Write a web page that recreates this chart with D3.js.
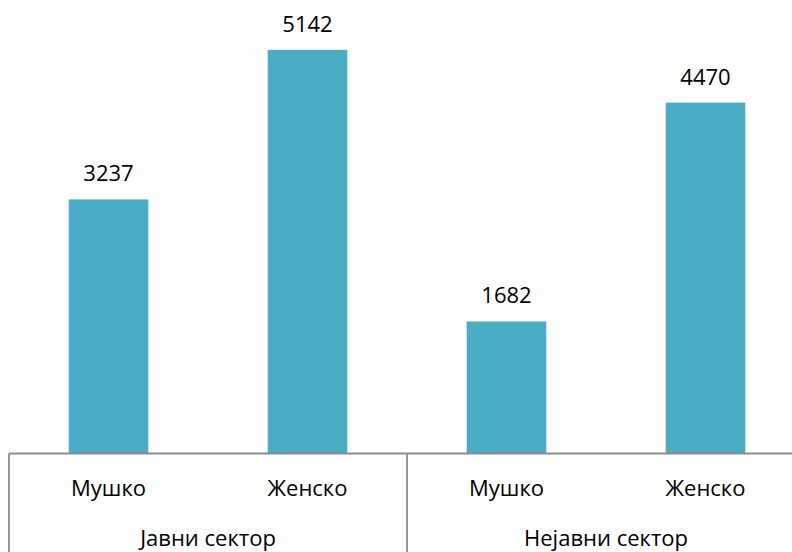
<!DOCTYPE html>
<html><head><meta charset="utf-8">
<script src="https://cdn.jsdelivr.net/npm/d3@7"></script>
<style>body{margin:0;background:#fff}svg{display:block}</style>
</head><body>
<svg id="c" width="792" height="552"></svg>
<script>
const categories = ["Мушко", "Женско", "Мушко", "Женско"];
const groups = ["Јавни сектор", "Нејавни сектор"];
const values = [3237, 5142, 1682, 4470];

const svg = d3.select("#c");
const font = "'Open Sans', sans-serif";
const baseY = 453.5;
const x = d3.scaleBand().domain(d3.range(values.length)).range([9, 805]).paddingInner(0.6).paddingOuter(0.3);
const y = d3.scaleLinear().domain([0, 6000]).range([baseY, baseY - 6000 * 0.0785]);

svg.selectAll("rect.bar").data(values).join("rect")
  .attr("class", "bar")
  .attr("x", (d, i) => x(i)).attr("width", x.bandwidth())
  .attr("y", d => y(d)).attr("height", d => y(0) - y(d))
  .attr("fill", "#4BACC6");

svg.selectAll("text.val").data(values).join("text")
  .attr("class", "val")
  .attr("x", (d, i) => x(i) + x.bandwidth() / 2)
  .attr("y", d => y(d) - 18)
  .attr("text-anchor", "middle")
  .attr("font-family", font).attr("font-size", 22).attr("fill", "#000")
  .text(d => d);

const stroke = "#8c8c8c";
svg.append("line").attr("x1", 9).attr("x2", 792).attr("y1", baseY).attr("y2", baseY)
  .attr("stroke", stroke).attr("stroke-width", 1.8);
const step = x.step();
const groupEdges = [9, 9 + 2 * step];
groupEdges.forEach(gx => {
  svg.append("line").attr("x1", gx).attr("x2", gx).attr("y1", baseY).attr("y2", 552)
    .attr("stroke", stroke).attr("stroke-width", 1.8);
});

svg.selectAll("text.cat").data(categories).join("text")
  .attr("class", "cat")
  .attr("x", (d, i) => x(i) + x.bandwidth() / 2)
  .attr("y", 496)
  .attr("text-anchor", "middle")
  .attr("font-family", font).attr("font-size", 22).attr("fill", "#000")
  .text(d => d);

svg.selectAll("text.grp").data(groups).join("text")
  .attr("class", "grp")
  .attr("x", (d, i) => 9 + step * (2 * i + 1))
  .attr("y", 546)
  .attr("text-anchor", "middle")
  .attr("font-family", font).attr("font-size", 22).attr("fill", "#000")
  .text(d => d);
</script>
</body></html>
